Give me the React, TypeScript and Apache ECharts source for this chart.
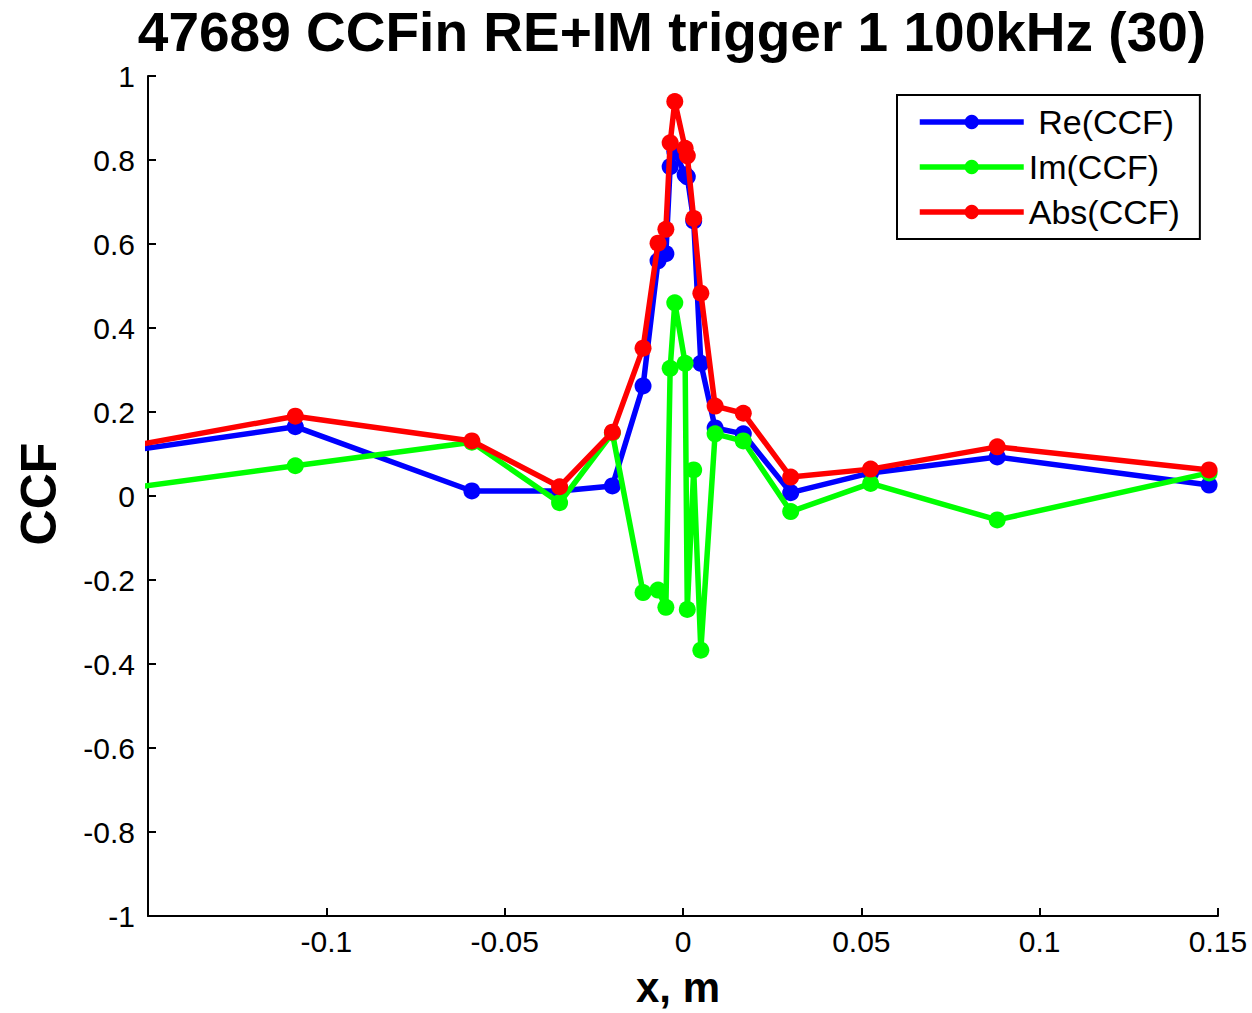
import React, { useEffect, useRef } from "react";
import * as echarts from "echarts";

const xPositions = [
  -0.175, -0.1087, -0.0592, -0.0346, -0.0198, -0.0112, -0.0070, -0.0048, -0.0036, -0.0023,
  0.0006, 0.0012, 0.0030, 0.0050, 0.0090, 0.0169, 0.0302, 0.0526, 0.0881, 0.1475,
];
const reValues = [
  0.083, 0.165, 0.012, 0.012, 0.024, 0.262, 0.560, 0.577, 0.784, 0.820,
  0.765, 0.760, 0.655, 0.316, 0.162, 0.148, 0.008, 0.055, 0.093, 0.026,
];
const imValues = [
  -0.004, 0.072, 0.128, -0.016, 0.150, -0.230, -0.224, -0.265, 0.304, 0.460,
  0.316, -0.270, 0.062, -0.367, 0.148, 0.131, -0.037, 0.030, -0.057, 0.055,
];
const absValues = [
  0.088, 0.190, 0.131, 0.022, 0.152, 0.352, 0.602, 0.635, 0.841, 0.939,
  0.828, 0.810, 0.661, 0.483, 0.214, 0.197, 0.045, 0.064, 0.117, 0.062,
];
const seriesNames = [" Re(CCF)", "Im(CCF)", "Abs(CCF)"];
const seriesColors = ["#0000ff", "#00ff00", "#ff0000"];
const titleText = "47689 CCFin RE+IM trigger 1 100kHz (30)";
const xLabel = "x, m";
const yLabel = "CCF";

const FONT = '"Liberation Sans", Arial, Helvetica, sans-serif';

export default function App() {
  const ref = useRef<HTMLDivElement>(null);
  useEffect(() => {
    if (!ref.current) return;
    const chart = echarts.init(ref.current, null, { renderer: "svg" });
    const allValues = [reValues, imValues, absValues];
    const series = allValues.map((vals, i) => ({
      name: seriesNames[i],
      type: "line",
      data: xPositions.map((x, j) => [x, vals[j]]),
      symbol: "circle",
      symbolSize: 17,
      showSymbol: true,
      clip: true,
      lineStyle: { color: seriesColors[i], width: 5.5 },
      itemStyle: { color: seriesColors[i] },
      z: 2 + i,
    }));
    chart.setOption({
      animation: false,
      backgroundColor: "#ffffff",
      grid: { left: 148, right: 34, top: 76, bottom: 97, containLabel: false },
      xAxis: {
        type: "value",
        min: -0.15,
        max: 0.15,
        interval: 0.05,
        axisLine: { onZero: false, lineStyle: { color: "#000", width: 2 } },
        axisTick: { inside: true, length: 8, lineStyle: { color: "#000", width: 2 } },
        splitLine: { show: false },
        axisLabel: {
          margin: 10,
          color: "#000",
          fontSize: 30,
          fontFamily: FONT,
          formatter: (v: number) =>
            Math.abs(v + 0.15) < 1e-9 ? "" : String(Number(v.toFixed(2))),
        },
      },
      yAxis: {
        type: "value",
        min: -1,
        max: 1,
        interval: 0.2,
        axisLine: { onZero: false, lineStyle: { color: "#000", width: 2 } },
        axisTick: { inside: true, length: 8, lineStyle: { color: "#000", width: 2 } },
        splitLine: { show: false },
        axisLabel: {
          margin: 13,
          color: "#000",
          fontSize: 30,
          fontFamily: FONT,
          formatter: (v: number) => String(Number(v.toFixed(1))),
        },
      },
      legend: {
        orient: "vertical",
        left: 897,
        top: 95,
        padding: [10, 20, 10, 20],
        itemGap: 11,
        itemWidth: 104,
        itemHeight: 18,
        borderColor: "#000",
        borderWidth: 2,
        borderRadius: 0,
        backgroundColor: "#ffffff",
        lineStyle: { width: 5.5 },
        textStyle: { color: "#000", fontSize: 34, fontFamily: FONT },
        data: seriesNames,
      },
      graphic: [
        {
          type: "text",
          x: 672,
          y: 32,
          style: {
            text: titleText,
            font: `bold 55px ${FONT}`,
            fill: "#000",
            textAlign: "center",
            textVerticalAlign: "middle",
            align: "center",
            verticalAlign: "middle",
          },
        },
        {
          type: "text",
          x: 678,
          y: 987,
          style: {
            text: xLabel,
            font: `bold 42px ${FONT}`,
            fill: "#000",
            textAlign: "center",
            textVerticalAlign: "middle",
            align: "center",
            verticalAlign: "middle",
          },
        },
        {
          type: "text",
          x: 39,
          y: 494,
          rotation: Math.PI / 2,
          style: {
            text: yLabel,
            font: `bold 50px ${FONT}`,
            fill: "#000",
            textAlign: "center",
            textVerticalAlign: "middle",
            align: "center",
            verticalAlign: "middle",
          },
        },
      ],
      series,
    });
    return () => chart.dispose();
  }, []);
  return (
    <div
      ref={ref}
      style={{ position: "absolute", left: 0, top: 0, width: 1252, height: 1013, background: "#fff" }}
    />
  );
}
